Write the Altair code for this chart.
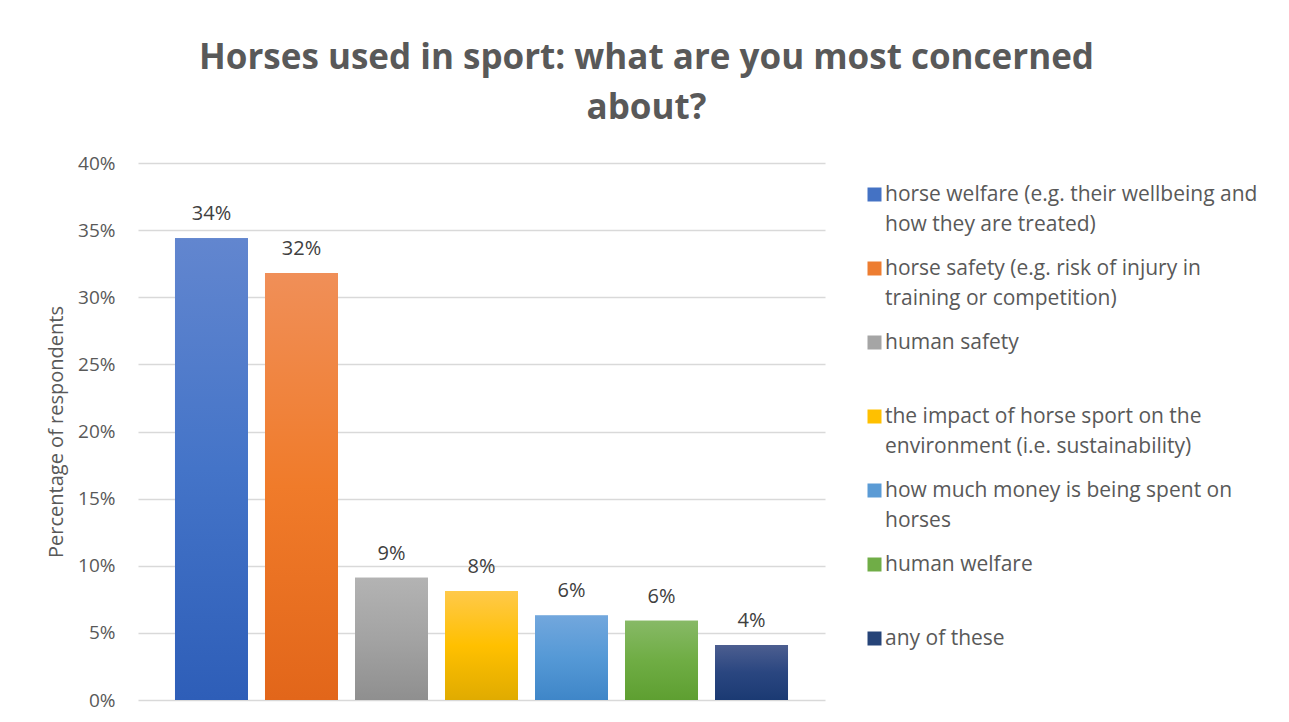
import json
import altair as alt
import pandas as pd

categories = [
    "horse welfare (e.g. their wellbeing and how they are treated)",
    "horse safety (e.g. risk of injury in training or competition)",
    "human safety",
    "the impact of horse sport on the environment (i.e. sustainability)",
    "how much money is being spent on horses",
    "human welfare",
    "any of these",
]
legend_lines = [
    ["horse welfare (e.g. their wellbeing and", "how they are treated)"],
    ["horse safety (e.g. risk of injury in", "training or competition)"],
    ["human safety"],
    ["the impact of horse sport on the", "environment (i.e. sustainability)"],
    ["how much money is being spent on", "horses"],
    ["human welfare"],
    ["any of these"],
]
values = [0.344, 0.318, 0.091, 0.081, 0.063, 0.059, 0.041]
y_ticks = [0, 0.05, 0.10, 0.15, 0.20, 0.25, 0.30, 0.35, 0.40]

base_colors = ["#4472c4", "#ed7d31", "#a5a5a5", "#ffc000", "#5b9bd5", "#70ad47", "#264478"]
grad_top = ["#6286cf", "#f08f58", "#b3b3b3", "#ffc94a", "#72a7dd", "#87b966", "#4c5e90"]
grad_mid = ["#4474c8", "#f07b2a", "#a3a3a3", "#ffc000", "#5599d6", "#6fad44", "#2a4680"]
grad_bot = ["#2e5eb8", "#e2661a", "#8f8f8f", "#e0ab00", "#3f86c8", "#5e9f31", "#1b3a73"]

FONT = "Open Sans"
TXT = "#595959"

df = pd.DataFrame({"category": categories, "value": values})

label_map = {c: l for c, l in zip(categories, legend_lines)}
label_expr = json.dumps(label_map) + "[datum.label]"

x_enc = alt.X(
    "category:N",
    sort=categories,
    axis=None,
    scale=alt.Scale(paddingInner=0.189, paddingOuter=0.411),
)
y_enc = alt.Y(
    "value:Q",
    scale=alt.Scale(domain=[0, 0.4], nice=False),
    axis=alt.Axis(
        format=".0%",
        values=y_ticks,
        title="Percentage of respondents",
        domain=False,
        ticks=False,
        labelFontSize=19,
        labelColor=TXT,
        labelFont=FONT,
        labelPadding=23,
        titleFontSize=20,
        titleFont=FONT,
        titleColor=TXT,
        titleFontWeight="normal",
        titlePadding=11,
        gridColor="#d9d9d9",
        gridWidth=1.5,
    ),
)

base = alt.Chart(df).mark_bar().encode(
    x=x_enc,
    y=y_enc,
    color=alt.Color(
        "category:N",
        sort=categories,
        scale=alt.Scale(domain=categories, range=base_colors),
        legend=alt.Legend(
            title=None,
            orient="none",
            legendX=726,
            legendY=21,
            symbolType="square",
            symbolSize=196,
            symbolStrokeWidth=0,
            labelFontSize=21,
            labelFont=FONT,
            labelColor=TXT,
            labelLimit=600,
            labelExpr=label_expr,
            labelOffset=0,
            gridAlign="all",
            rowPadding=22,
        ),
    ),
)

grad_layers = []
for i, cat in enumerate(categories):
    grad_layers.append(
        alt.Chart(df)
        .transform_filter(alt.datum.category == cat)
        .mark_bar(
            color=alt.Gradient(
                gradient="linear",
                x1=0, x2=0, y1=0, y2=1,
                stops=[
                    alt.GradientStop(offset=0, color=grad_top[i]),
                    alt.GradientStop(offset=0.5, color=grad_mid[i]),
                    alt.GradientStop(offset=1, color=grad_bot[i]),
                ],
            )
        )
        .encode(x=x_enc, y=y_enc)
    )

labels = alt.Chart(df).mark_text(
    baseline="bottom", dy=-14, fontSize=20, font=FONT, color="#404040"
).encode(x=x_enc, y=y_enc, text=alt.Text("value:Q", format=".0%"))

chart = (
    alt.layer(base, *grad_layers, labels)
    .properties(
        width=687,
        height=537,
        padding={"left": 130, "top": 155, "right": 456, "bottom": 14},
        autosize=alt.AutoSizeParams(type="none"),
        title=alt.Title(
            ["Horses used in sport: what are you most concerned", "about?"],
            fontSize=35,
            font=FONT,
            fontWeight="bold",
            color=TXT,
            anchor="middle",
            dx=165,
            offset=28,
            lineHeight=50,
        ),
    )
    .configure(
        background="white",
        style={"guide-label": {"lineHeight": 30}},
        view={"stroke": "transparent", "strokeWidth": 0},
    )
)

chart.save("out.html", embed_options={"renderer": "svg", "actions": False})
